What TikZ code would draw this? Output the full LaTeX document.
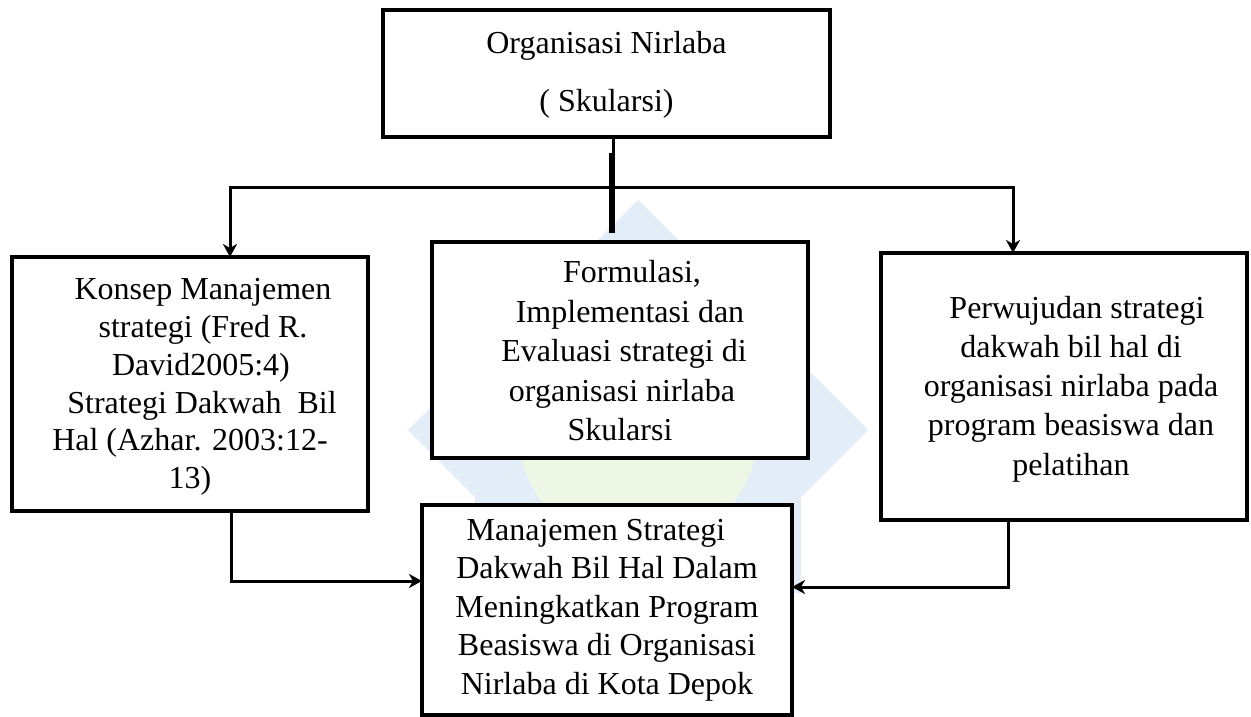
\documentclass[tikz,border=0pt]{standalone}
\usepackage{fontspec}
\setmainfont{Liberation Serif}
\usetikzlibrary{arrows.meta}
\definecolor{wmblue}{RGB}{226,237,248}
\definecolor{wmgreen}{RGB}{238,246,229}
\newcommand\myind[1]{\hbox to #1{}}
\begin{document}
\begin{tikzpicture}[x=1pt,y=-1pt,line join=miter,
  box/.style={draw=black,line width=4.5pt,fill=white,inner sep=0pt,outer sep=0pt},
  txt/.style={align=center,inner sep=0pt,font=\fontsize{32}{#1}\selectfont},
  txt/.default=38.5,
  conn/.style={draw=black,line width=3pt},
  arr/.style={conn,-{Stealth[length=13pt,width=14pt,inset=4pt]}}]
\path[use as bounding box] (0,0) rectangle (1251,717);
% faint watermark
\fill[wmblue] (408,430) -- (638,200) -- (868,430) -- (638,660) -- cycle;
\fill[wmblue] (475,267) rectangle (801,593);
\fill[wmgreen] (638,430) circle[radius=120];
% boxes
\node[box,minimum width=447pt,minimum height=127pt] (top) at (606.5,73.5) {};
\node[box,minimum width=356pt,minimum height=254pt] (left) at (190,384) {};
\node[box,minimum width=376pt,minimum height=216pt] (mid) at (620,350) {};
\node[box,minimum width=366pt,minimum height=267pt] (right) at (1064,386.5) {};
\node[box,minimum width=370pt,minimum height=210pt] (bottom) at (607,610) {};
% texts
\node[txt=58] (toptxt) at (606.5,75) {Organisasi Nirlaba\\( Skularsi)};
\node[txt=37.8] (lefttxt) at (190,387) {\myind{26pt}Konsep Manajemen\\\myind{26pt}strategi (Fred R.\\\myind{22pt}David2005:4)\\\myind{24pt}Strategi Dakwah\ \ Bil\\Hal (Azhar. 2003:12-\\13)};
\node[txt=39.5] (midtxt) at (620,351) {\myind{24pt}Formulasi,\\\myind{20pt}Implementasi dan\\\myind{8pt}Evaluasi strategi di\\\myind{4pt}organisasi nirlaba\\Skularsi};
\node[txt=39.3] (righttxt) at (1071,389) {\myind{12pt}Perwujudan strategi\\dakwah bil hal di\\organisasi nirlaba pada\\program beasiswa dan\\pelatihan};
\node[txt=38.5] (bottomtxt) at (607,610) {Manajemen Strategi\myind{22pt}\\Dakwah Bil Hal Dalam\\Meningkatkan Program\\Beasiswa di Organisasi\\Nirlaba di Kota Depok};
% connectors
\coordinate (j) at (613,187);
\coordinate (jl) at (230,187);
\coordinate (jr) at (1013,187);
\coordinate (s1) at (612,153);
\coordinate (s2) at (612,233);
\coordinate (lb) at (231,581);
\coordinate (rb) at (1008,587);
\draw[conn] (top.south -| j) -- (j);
\draw[line width=6pt] (s1) -- (s2);
\draw[arr] (jr) -- (jl) -- (jl |- left.north);
\draw[arr] (jl) -- (jr) -- (jr |- right.north);
\draw[arr] (lb |- left.south) -- (lb) -- (bottom.west |- lb);
\draw[arr] (rb |- right.south) -- (rb) -- (bottom.east |- rb);
\end{tikzpicture}
\end{document}
